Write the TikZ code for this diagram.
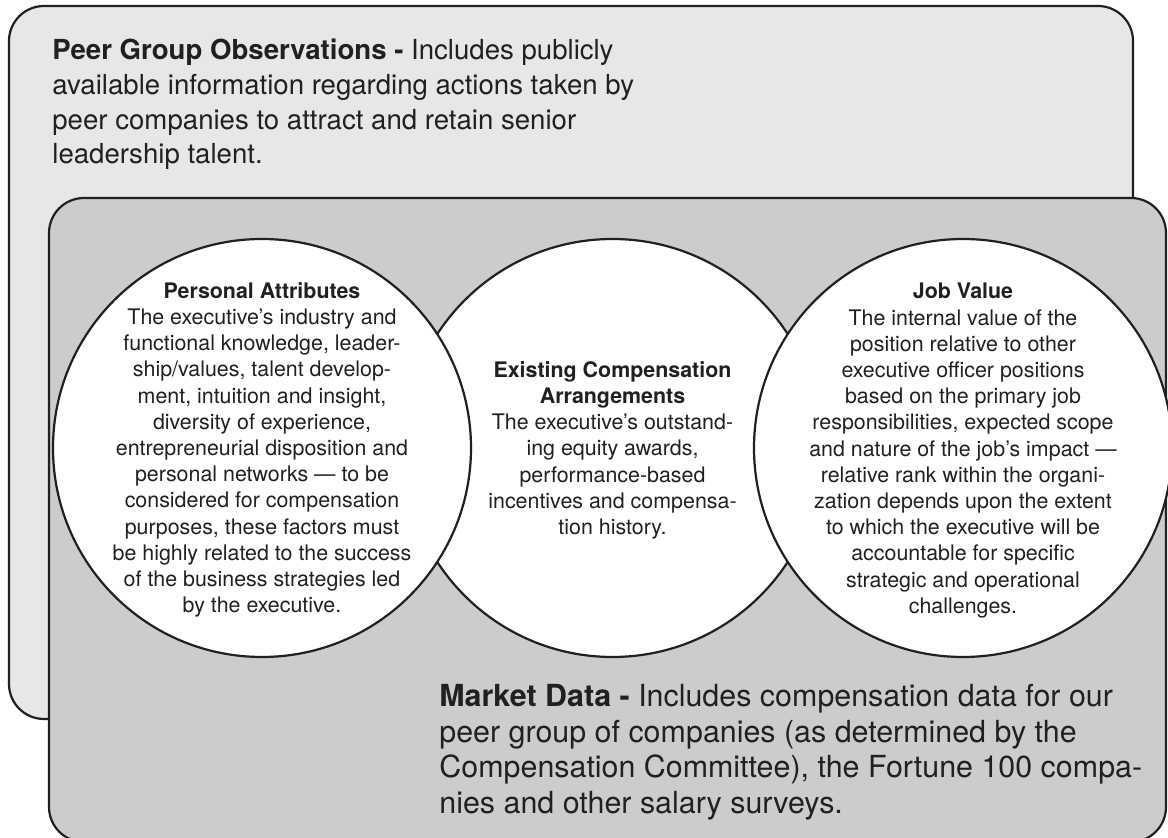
\documentclass[tikz,border=0pt]{standalone}
\usepackage{fontspec}
\setmainfont{TeX Gyre Heros}
\usepackage{xcolor}
\usepackage{tikz}
\usetikzlibrary{positioning}
\definecolor{ink}{HTML}{231F20}
\definecolor{peergray}{HTML}{E6E7E8}
\definecolor{marketgray}{HTML}{CBCCCE}
\newcommand{\PGOtext}{
  \textbf{Peer Group Observations -} Includes publicly\\
  available information regarding actions taken by\\
  peer companies to attract and retain senior\\
  leadership talent.
}
\newcommand{\PAtext}{
  \textbf{Personal Attributes}\\
  The executive’s industry and\\
  functional knowledge, leader-\\
  ship/values, talent develop-\\
  ment, intuition and insight,\\
  diversity of experience,\\
  entrepreneurial disposition and\\
  personal networks — to be\\
  considered for compensation\\
  purposes, these factors must\\
  be highly related to the success\\
  of the business strategies led\\
  by the executive.
}
\newcommand{\ECtext}{
  \textbf{Existing Compensation}\\
  \textbf{Arrangements}\\
  The executive’s outstand-\\
  ing equity awards,\\
  performance-based\\
  incentives and compensa-\\
  tion history.
}
\newcommand{\JVtext}{
  \textbf{Job Value}\\
  The internal value of the\\
  position relative to other\\
  executive officer positions\\
  based on the primary job\\
  responsibilities, expected scope\\
  and nature of the job’s impact —\\
  relative rank within the organi-\\
  zation depends upon the extent\\
  to which the executive will be\\
  accountable for specific\\
  strategic and operational\\
  challenges.
}
\newcommand{\MDtext}{
  \textbf{Market Data -} Includes compensation data for our\\
  peer group of companies (as determined by the\\
  Compensation Committee), the Fortune 100 compa-\\
  nies and other salary surveys.
}

\begin{document}
\begin{tikzpicture}[
    x=0.5pt, y=-0.5pt,
    panel/.style={draw=ink, line width=1.1pt, rounded corners=17.5pt, inner sep=0pt},
    disc/.style={circle, draw=ink, line width=1.1pt, fill=white, minimum size=209pt, inner sep=0pt},
    bigtext/.style={inner sep=0pt, align=left, text=ink},
    smalltext/.style={inner sep=0pt, align=center, text=ink,
      font=\fontsize{10.7}{13.1}\selectfont}
]
\useasboundingbox (0,0) rectangle (1168,838);
\node[panel, fill=peergray, minimum width=562pt, minimum height=356.5pt] (PG) at (571,362.5) {};
\node[panel, fill=marketgray, minimum width=558.5pt, minimum height=322pt] (MK) at (607.5,520) {};
% middle circle goes under the two outer ones
\node[disc] (EC) at (612.5,448) {};
\node[disc] (PA) at (262,448) {};
\node[disc] (JV) at (963,448) {};
\node[bigtext, anchor=north west, font=\fontsize{13.8}{17.3}\selectfont] (PGO) at (52,39) {\PGOtext};
\node[smalltext, anchor=north] (PAT) at (262,282) {\PAtext};
\node[smalltext, anchor=north] (ECT) at (612.5,361) {\ECtext};
\node[smalltext, anchor=north] (JVT) at (963,283) {\JVtext};
\node[bigtext, anchor=north west, font=\fontsize{15.2}{17.8}\selectfont] (MDT) at (439,684) {\MDtext};
\end{tikzpicture}
\end{document}
